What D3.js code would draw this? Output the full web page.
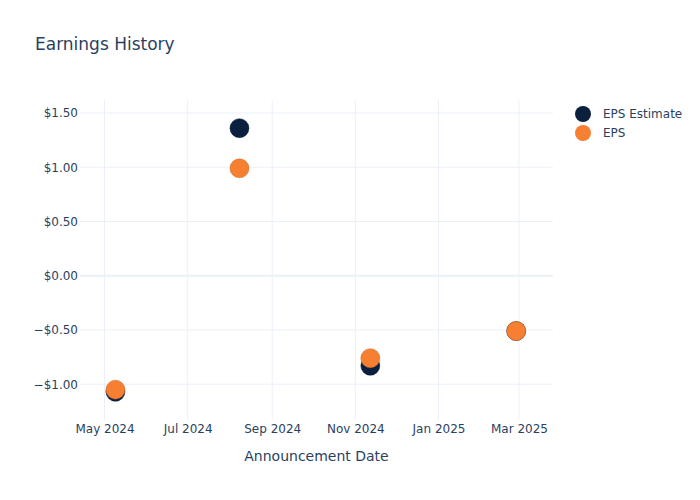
<!DOCTYPE html>
<html>
<head>
<meta charset="utf-8">
<script src="https://cdn.jsdelivr.net/npm/d3@7"></script>
<style>
  body { margin: 0; background: #fff; }
  svg { font-family: "DejaVu Sans", Verdana, sans-serif; }
</style>
</head>
<body>
<div id="chart"></div>
<script>
// announcement dates and EPS values
var dates = ["2024-05-09", "2024-08-08", "2024-11-12", "2025-02-27"];
var epsEstimate = [-1.07, 1.36, -0.83, -0.51];
var epsActual = [-1.05, 0.99, -0.76, -0.51];
var seriesNames = ["EPS Estimate", "EPS"];
var yTicks = [-1.0, -0.5, 0, 0.5, 1.0, 1.5];

var width = 700,
    height = 500,
    margin = { top: 100, right: 147, bottom: 80, left: 80 },
    textColor = "#2a3f5f",
    gridColor = "#ebf0f8",
    colors = ["#0b1f3f", "#f77f32"];

var parse = d3.timeParse("%Y-%m-%d");

var svg = d3.select("#chart")
    .append("svg")
    .attr("width", width)
    .attr("height", height);

var x = d3.scaleTime()
    .domain([parse("2024-04-13"), parse("2025-03-26")])
    .range([margin.left, width - margin.right]);

var y = d3.scaleLinear()
    .domain([-1.33, 1.62])
    .range([height - margin.bottom, margin.top]);

var fmtMoney = function (v) {
    var s = "$" + d3.format(".2f")(Math.abs(v));
    return v < 0 ? "\u2212" + s : s;
};

// vertical grid + x axis
var xAxis = d3.axisBottom(x)
    .ticks(d3.timeMonth.every(2))
    .tickFormat(d3.timeFormat("%b %Y"))
    .tickSize(0)
    .tickPadding(4);

svg.append("g")
    .attr("class", "xgrid")
    .selectAll("line")
    .data(x.ticks(d3.timeMonth.every(2)))
    .enter().append("line")
    .attr("x1", d => x(d)).attr("x2", d => x(d))
    .attr("y1", margin.top).attr("y2", height - margin.bottom)
    .style("stroke", gridColor)
    .style("stroke-width", "1px");

// horizontal grid
svg.append("g")
    .attr("class", "ygrid")
    .selectAll("line")
    .data(yTicks)
    .enter().append("line")
    .attr("x1", margin.left).attr("x2", width - margin.right)
    .attr("y1", d => y(d)).attr("y2", d => y(d))
    .style("stroke", gridColor)
    .style("stroke-width", d => d === 0 ? "2px" : "1px");

var gx = svg.append("g")
    .attr("transform", "translate(0," + (height - margin.bottom) + ")")
    .call(xAxis);
gx.select("path").remove();
gx.selectAll(".tick text")
    .style("fill", textColor)
    .style("font-size", "12px")
    .style("font-family", "DejaVu Sans, sans-serif");

var yAxis = d3.axisLeft(y)
    .tickValues(yTicks)
    .tickFormat(fmtMoney)
    .tickSize(0)
    .tickPadding(2);

var gy = svg.append("g")
    .attr("transform", "translate(" + margin.left + ",0)")
    .call(yAxis);
gy.select("path").remove();
gy.selectAll(".tick text")
    .style("fill", textColor)
    .style("font-size", "12px")
    .style("font-family", "DejaVu Sans, sans-serif");

// markers
[epsEstimate, epsActual].forEach(function (vals, i) {
    svg.append("g")
        .selectAll("circle")
        .data(vals)
        .enter().append("circle")
        .attr("cx", (d, j) => x(parse(dates[j])))
        .attr("cy", d => y(d))
        .attr("r", 9.5)
        .style("fill", colors[i])
        .style("stroke", d3.color(colors[i]).darker(0.6))
        .style("stroke-width", "0.5px");
});

// title
svg.append("text")
    .attr("x", 35)
    .attr("y", 50)
    .text("Earnings History")
    .style("fill", textColor)
    .style("font-size", "17px");

// x axis title
svg.append("text")
    .attr("x", (margin.left + width - margin.right) / 2)
    .attr("y", 461)
    .attr("text-anchor", "middle")
    .text("Announcement Date")
    .style("fill", textColor)
    .style("font-size", "14px");

// legend
var legend = svg.append("g");
seriesNames.forEach(function (name, i) {
    var ly = 114 + i * 19;
    legend.append("circle")
        .attr("cx", 583)
        .attr("cy", ly)
        .attr("r", 8)
        .style("fill", colors[i]);
    legend.append("text")
        .attr("x", 603)
        .attr("y", ly)
        .attr("dy", "0.35em")
        .text(name)
        .style("fill", textColor)
        .style("font-size", "12px");
});
</script>
</body>
</html>
